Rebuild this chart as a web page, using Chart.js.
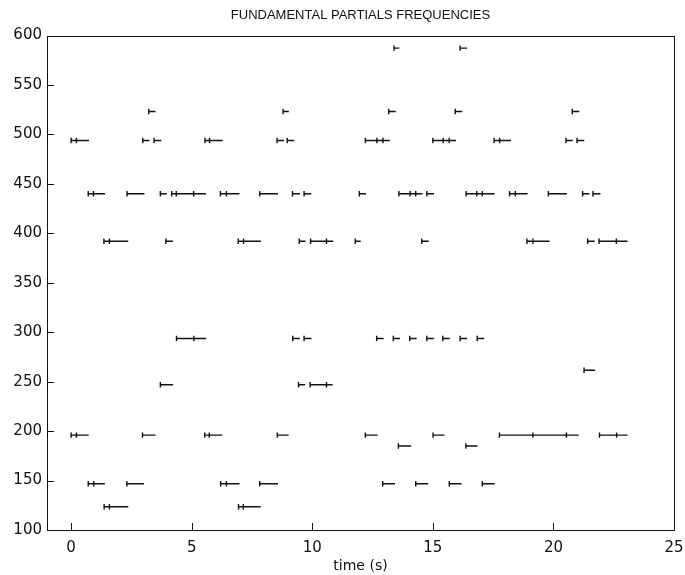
<!DOCTYPE html>
<html>
<head>
<meta charset="utf-8">
<script src="https://cdn.jsdelivr.net/npm/chart.js@4"></script>
<style>
  html, body { margin:0; padding:0; background:#fff; }
  #wrap { width:685px; height:575px; }
</style>
</head>
<body>
<div id="wrap"><canvas id="c" width="685" height="575"></canvas></div>
<script>
// note frequencies (Hz), one row of notes per pitch
const pitches = [587.33, 523.25, 493.88, 440, 392, 293.66, 261.63, 246.94, 196, 185, 146.83, 123.47];

// [start, end] in seconds for each note of a row
const d5 = [[13.39,13.61],[16.13,16.42]];
const c5 = [[3.22,3.50],[8.79,9.03],[13.17,13.46],[15.93,16.22],[20.78,21.07]];
const b4 = [[0,0.22],[0.22,0.74],[2.97,3.25],[3.44,3.74],[5.55,5.74],[5.74,6.28],[8.54,8.83],[8.96,9.25],
            [12.2,12.68],[12.68,12.93],[12.93,13.22],[15.0,15.43],[15.43,15.68],[15.68,15.96],
            [17.54,17.77],[17.77,18.24],[20.52,20.8],[20.98,21.28]];
const a4 = [[0.71,0.93],[0.93,1.41],[2.32,3.04],[3.70,3.97],[4.17,4.36],[4.36,5.08],[5.08,5.59],
            [6.19,6.44],[6.44,6.98],[7.82,8.58],[9.18,9.49],[9.66,9.96],[11.95,12.23],
            [13.59,14.06],[14.06,14.29],[14.29,14.57],[14.75,15.05],[16.38,16.82],[16.82,17.05],
            [17.05,17.56],[18.18,18.42],[18.42,18.93],[19.79,20.56],[21.21,21.49],[21.64,21.95]];
const g4 = [[1.36,1.59],[1.59,2.37],[3.93,4.22],[6.93,7.15],[7.15,7.87],[9.46,9.72],[9.93,10.59],
            [10.59,10.87],[11.78,12.01],[14.54,14.83],[18.9,19.15],[19.15,19.84],[21.42,21.71],
            [21.89,22.61],[22.61,23.07]];
const d4 = [[4.37,5.09],[5.09,5.60],[9.19,9.48],[9.66,9.97],[12.67,12.96],[13.36,13.64],[14.04,14.33],
            [14.75,15.04],[15.41,15.70],[16.13,16.42],[16.84,17.13]];
const c4 = [[21.27,21.73]];
const b3 = [[3.70,4.23],[9.43,9.70],[9.91,10.59],[10.59,10.84]];
const g3 = [[0,0.22],[0.22,0.73],[2.96,3.50],[5.54,5.73],[5.73,6.27],[8.55,9.02],[12.2,12.71],
            [15.01,15.48],[17.76,19.15],[19.15,20.54],[20.54,21.05],[21.91,22.62],[22.62,23.07]];
const fs3 = [[13.57,14.10],[16.37,16.85]];
const d3 = [[0.71,0.94],[0.94,1.40],[2.31,3.02],[6.20,6.44],[6.44,6.98],[7.82,8.58],[12.92,13.43],
            [14.29,14.81],[15.68,16.19],[17.05,17.56]];
const b2 = [[1.37,1.59],[1.59,2.37],[6.94,7.14],[7.14,7.86]];
const rows = [d5, c5, b4, a4, g4, d4, c4, b3, g3, fs3, d3, b2];

const xTicks = [0, 5, 10, 15, 20, 25];
const yTicks = [100, 150, 200, 250, 300, 350, 400, 450, 500, 550, 600];

const FONT = "'Liberation Sans', Arial, sans-serif";
const TICKFONT = "'DejaVu Sans', sans-serif";
const INK = '#111';

// each note: start point (tick marker), end point, then a gap
const datasets = rows.map((notes, i) => {
    const f = pitches[i];
    const pts = [];
    notes.forEach(n => { pts.push({x:n[0], y:f}, {x:n[1], y:f}, {x:n[1], y:null}); });
    return {
        data: pts,
        borderColor: INK, borderWidth: 1.4,
        pointStyle: 'line', pointRotation: 90,
        pointBorderColor: INK, pointBorderWidth: 1.4,
        pointRadius: (ctx) => ctx.dataIndex % 3 === 0 ? 2.7 : 0,
        pointHoverRadius: 0,
        spanGaps: false, tension: 0
    };
});

// box round the plot and inward tick marks (left and bottom)
const frame = {
    id: 'frame',
    afterDraw(chart) {
        const { ctx, chartArea: a, scales } = chart;
        ctx.save();
        ctx.strokeStyle = INK; ctx.lineWidth = 1;
        ctx.strokeRect(Math.round(a.left) + 0.5, Math.round(a.top) + 0.5,
                       Math.round(a.right - a.left), Math.round(a.bottom - a.top));
        ctx.beginPath();
        xTicks.forEach(v => {
            const px = Math.round(scales.x.getPixelForValue(v)) + 0.5;
            ctx.moveTo(px, a.bottom); ctx.lineTo(px, a.bottom - 7);
        });
        yTicks.forEach(v => {
            const py = Math.round(scales.y.getPixelForValue(v)) + 0.5;
            ctx.moveTo(a.left, py); ctx.lineTo(a.left + 7, py);
        });
        ctx.stroke();
        ctx.restore();
    }
};

new Chart(document.getElementById('c'), {
    type: 'line',
    data: { datasets },
    options: {
        responsive: false, animation: false,
        layout: { padding: 0 },
        plugins: {
            legend: { display: false }, tooltip: { enabled: false },
            title: { display: true, text: 'FUNDAMENTAL PARTIALS FREQUENCIES', fullSize: false,
                     color: INK, font: { family: FONT, size: 13, weight: 'normal' },
                     padding: { top: 8, bottom: 12 } }
        },
        scales: {
            x: {
                type: 'linear', min: -1, max: 25,
                afterBuildTicks: (s) => { s.ticks = xTicks.map(v => ({ value: v })); },
                afterFit: (s) => { s.height = 45; s.paddingLeft = 0; s.paddingRight = 11; },
                grid: { display: false, drawTicks: false }, border: { display: false },
                ticks: { color: INK, padding: 9, font: { family: TICKFONT, size: 15 } },
                title: { display: true, text: 'time (s)', color: INK,
                         font: { family: TICKFONT, size: 14 }, padding: { top: 0, bottom: 0 } }
            },
            y: {
                type: 'linear', min: 100, max: 600,
                afterBuildTicks: (s) => { s.ticks = yTicks.map(v => ({ value: v })); },
                afterFit: (s) => { s.width = 47; },
                grid: { display: false, drawTicks: false }, border: { display: false },
                ticks: { color: INK, padding: 5, font: { family: TICKFONT, size: 15 } }
            }
        }
    },
    plugins: [frame]
});
</script>
</body>
</html>
